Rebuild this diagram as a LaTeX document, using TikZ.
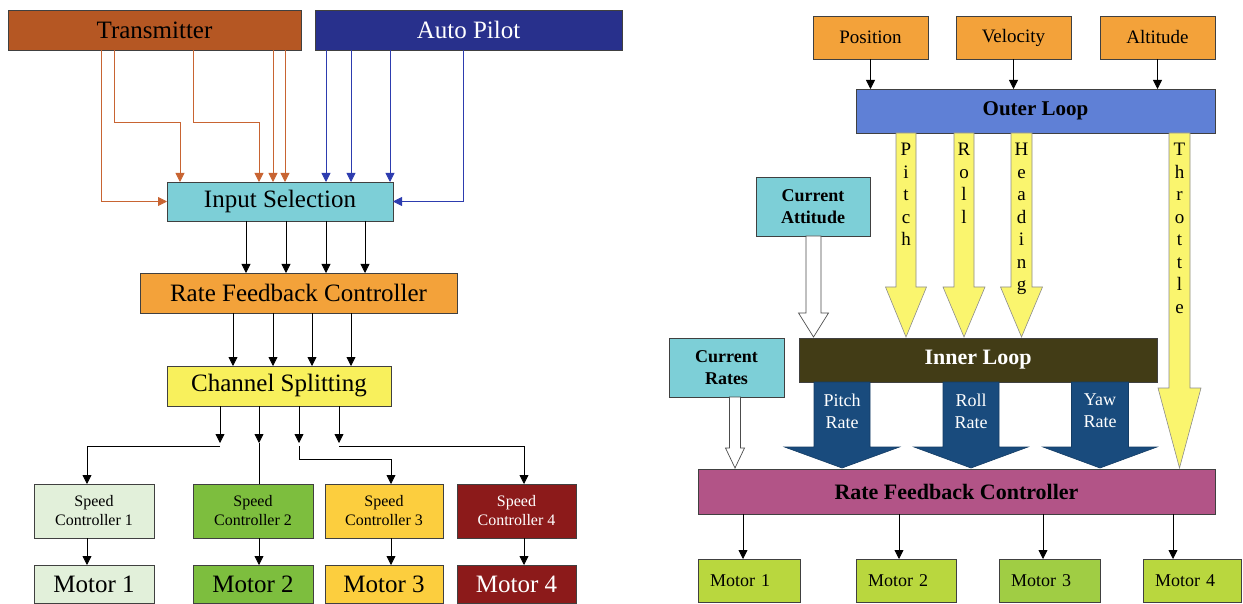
\documentclass[tikz,border=0pt]{standalone}
\usepackage{fontspec}
\setmainfont{Liberation Serif}
\usepackage{tikz}
\usetikzlibrary{arrows.meta,%
                positioning}

\definecolor{txbrown}{RGB}{181,87,35}
\definecolor{txlink}{RGB}{200,100,50}
\definecolor{apnavy}{RGB}{40,48,140}
\definecolor{aplink}{RGB}{45,60,175}
\definecolor{selcyan}{RGB}{125,207,215}
\definecolor{rfcorange}{RGB}{243,162,58}
\definecolor{splityellow}{RGB}{248,240,92}
\definecolor{paleg}{RGB}{226,240,218}
\definecolor{midg}{RGB}{125,190,62}
\definecolor{sunny}{RGB}{252,206,62}
\definecolor{darkred}{RGB}{140,26,26}
\definecolor{outerblue}{RGB}{95,128,214}
\definecolor{arrowyellow}{RGB}{250,245,110}
\definecolor{innerolive}{RGB}{66,60,22}
\definecolor{rateblue}{RGB}{25,75,125}
\definecolor{rfcpurple}{RGB}{178,84,135}
\definecolor{motorlime}{RGB}{185,215,62}
\definecolor{motorgreen}{RGB}{160,205,68}

% fat block arrow: style, x, y top, y head, y tip, half shaft, half head
\newcommand{\fatarrow}[7]{%
  \draw[#1] (#2-#6,#3) -- (#2-#6,#4) -- (#2-#7,#4) -- (#2,#5)
            -- (#2+#7,#4) -- (#2+#6,#4) -- (#2+#6,#3) -- cycle;}

\begin{document}
\begin{tikzpicture}[x=1pt,y=-1pt]
  \tikzset{BoxStyle/.style = {shape          = rectangle,
                              draw           = black!75,
                              line width     = 0.8pt,
                              text           = black,
                              inner sep      = 0pt,
                              outer sep      = 0pt,
                              align          = center}}
  \tikzset{LinkStyle/.style = {line width = 0.8pt,
                               -{Triangle[width=9pt,length=9pt]}}}
  \tikzset{BigText/.style = {font=\fontsize{25}{28}\selectfont},
           SmallText/.style = {font=\fontsize{16}{19}\selectfont},
           BoldText/.style = {font=\fontsize{18}{22}\selectfont\bfseries},
           WideBox/.style 2 args = {minimum width=#1, minimum height=#2},
           MotorBox/.style = {font=\fontsize{18}{22}\selectfont, minimum height=43pt,
                              text width=#1, align=left, inner xsep=12pt}}
  \tikzset{YellowArrow/.style = {fill=arrowyellow, draw=black!45, line width=0.6pt},
           HollowArrow/.style = {fill=white, draw=black!70, line width=0.7pt},
           RateArrow/.style = {fill=rateblue, draw=rateblue!80!black, line width=0.6pt},
           LetterText/.style = {font=\fontsize{19}{22.5}\selectfont, align=center,
                                inner sep=0pt, anchor=north}}
  \useasboundingbox (0,0) rectangle (1243,604);

	%%% LEFT : RC PATH %%%
	\node[BoxStyle, BigText, WideBox={293pt}{40pt}, fill=txbrown](tx) at (154.5,30){Transmitter};
	\node[BoxStyle, BigText, WideBox={307pt}{40pt}, fill=apnavy, text=white](ap) at (468.5,30){Auto Pilot};
	\node[BoxStyle, BigText, WideBox={226pt}{39pt}, fill=selcyan](insel) at (280,201.5){Input Selection};
	\node[BoxStyle, BigText, WideBox={317pt}{40pt}, fill=rfcorange](rfc) at (298.5,293){Rate Feedback Controller};
	\node[BoxStyle, BigText, WideBox={224pt}{40pt}, fill=splityellow](chsp) at (279,386){Channel Splitting};
	%
	\node[BoxStyle, SmallText, WideBox={120pt}{54pt}, fill=paleg](sc1) at (94,511){Speed\\Controller 1};
	\node[BoxStyle, SmallText, WideBox={120pt}{54pt}, fill=midg](sc2) at (253,511){Speed\\Controller 2};
	\node[BoxStyle, SmallText, WideBox={118pt}{54pt}, fill=sunny](sc3) at (384,511){Speed\\Controller 3};
	\node[BoxStyle, SmallText, WideBox={119pt}{54pt}, fill=darkred, text=white](sc4) at (516.5,511){Speed\\Controller 4};
	%
	\node[BoxStyle, BigText, WideBox={120pt}{38pt}, fill=paleg, below=27pt of sc1](mo1){Motor 1};
	\node[BoxStyle, BigText, WideBox={120pt}{38pt}, fill=midg, below=27pt of sc2](mo2){Motor 2};
	\node[BoxStyle, BigText, WideBox={118pt}{38pt}, fill=sunny, below=27pt of sc3](mo3){Motor 3};
	\node[BoxStyle, BigText, WideBox={119pt}{38pt}, fill=darkred, text=white, below=27pt of sc4](mo4){Motor 4};

	%% transmitter links
	\draw[LinkStyle, draw=txlink]([xshift=93pt]tx.south west) |- (insel.west);
	\draw[LinkStyle, draw=txlink]([xshift=106pt]tx.south west) -- ++(0,72) -| ([xshift=13pt]insel.north west);
	\draw[LinkStyle, draw=txlink]([xshift=185pt]tx.south west) -- ++(0,72) -| ([xshift=92pt]insel.north west);
	\draw[LinkStyle, draw=txlink]([xshift=265pt]tx.south west) -- ([xshift=106pt]insel.north west);
	\draw[LinkStyle, draw=txlink]([xshift=277pt]tx.south west) -- ([xshift=118pt]insel.north west);
	%% auto pilot links
	\foreach \a/\b in {11/159, 36/184, 75/223}
		\draw[LinkStyle, draw=aplink]([xshift=\a pt]ap.south west) -- ([xshift=\b pt]insel.north west);
	\draw[LinkStyle, draw=aplink]([xshift=148pt]ap.south west) |- (insel.east);
	%% down the chain
	\foreach \a/\b in {79/106, 119/146, 159/186, 198/225}
		\draw[LinkStyle]([xshift=\a pt]insel.south west) -- ([xshift=\b pt]rfc.north west);
	\foreach \a/\b in {93/66, 133/106, 172/145, 211/184}
		\draw[LinkStyle]([xshift=\a pt]rfc.south west) -- ([xshift=\b pt]chsp.north west);
	% splitting
	\coordinate (s1) at ([xshift=53pt, yshift=-37pt]chsp.south west);
	\coordinate (s2) at ([xshift=92pt, yshift=-37pt]chsp.south west);
	\coordinate (s3) at ([xshift=132pt, yshift=-37pt]chsp.south west);
	\coordinate (s4) at ([xshift=172pt, yshift=-37pt]chsp.south west);
	\foreach \s in {s1,s2,s3,s4}
		\draw[LinkStyle](chsp.south -| \s) -- (\s);
	\draw[LinkStyle]([yshift=-3pt]s1) -| ([xshift=53pt]sc1.north west);
	\draw[line width=0.8pt](s2) -- (sc2.north -| s2);
	\draw[LinkStyle]([yshift=-3pt]s3) -- ++(0,13) -| ([xshift=66pt]sc3.north west);
	\draw[LinkStyle]([yshift=-3pt]s4) -| ([xshift=67pt]sc4.north west);
	\foreach \n/\a in {1/53, 2/66, 3/66, 4/67}
		\draw[LinkStyle]([xshift=\a pt]sc\n.south west) -- ([xshift=\a pt]mo\n.north west);

	%%% RIGHT : LOOPS %%%
	\node[BoxStyle, font=\fontsize{19}{22}\selectfont, WideBox={115pt}{43pt}, fill=rfcorange](pos) at (870.5,37.5){Position};
	\node[BoxStyle, font=\fontsize{19}{22}\selectfont, WideBox={115pt}{43pt}, fill=rfcorange](vel) at (1013.5,37.5){Velocity};
	\node[BoxStyle, font=\fontsize{19}{22}\selectfont, WideBox={115pt}{43pt}, fill=rfcorange](alt) at (1157.5,37.5){Altitude};
	\node[BoxStyle, font=\fontsize{21}{24}\selectfont\bfseries, WideBox={359pt}{44pt}, fill=outerblue](outer) at (1035.5,111){Outer Loop};
	\node[BoxStyle, BoldText, WideBox={114pt}{59pt}, fill=selcyan](curatt) at (813,206.5){Current\\Attitude};
	\node[BoxStyle, font=\fontsize{22}{24}\selectfont\bfseries, WideBox={358pt}{44pt}, fill=innerolive, text=white](inner) at (978,360){Inner Loop};
	\node[BoxStyle, BoldText, WideBox={115pt}{59pt}, fill=selcyan](currat) at (726.5,367.5){Current\\Rates};
	\node[BoxStyle, font=\fontsize{22}{24}\selectfont\bfseries, WideBox={517pt}{45pt}, fill=rfcpurple](rfcr) at (956.5,491.5){Rate Feedback Controller};
	%
	\node[BoxStyle, MotorBox={78pt}, fill=motorlime](m1) at (749,580.5){Motor 1};
	\node[BoxStyle, MotorBox={76pt}, fill=motorlime](m2) at (906,580.5){Motor 2};
	\node[BoxStyle, MotorBox={77pt}, fill=motorgreen](m3) at (1049.5,580.5){Motor 3};
	\node[BoxStyle, MotorBox={74pt}, fill=motorlime](m4) at (1192,580.5){Motor 4};

	\foreach \b in {pos,vel,alt}
		\draw[LinkStyle](\b) -- (\b |- outer.north);
	\foreach \n/\a in {1/45, 2/201, 3/345, 4/475}{
		\coordinate (r\n) at ([xshift=\a pt]rfcr.south west);
		\draw[LinkStyle](r\n) -- (r\n |- m\n.north);
	}

	%% fat arrows
	\fatarrow{YellowArrow}{906}{133}{287}{337}{10}{20.5}
	\fatarrow{YellowArrow}{964}{133}{287}{337}{10}{21}
	\fatarrow{YellowArrow}{1021.5}{133}{287}{337}{10.5}{21}
	\fatarrow{YellowArrow}{1179.5}{133}{388}{468}{10.5}{21.5}
	\fatarrow{HollowArrow}{813.5}{236}{313}{337}{7.5}{15}
	\fatarrow{HollowArrow}{735}{397}{448}{468}{5.5}{9.5}
	\fatarrow{RateArrow}{842}{382}{447}{468}{28}{57.5}
	\fatarrow{RateArrow}{971}{382}{447}{468}{28}{57}
	\fatarrow{RateArrow}{1100}{382}{447}{468}{28.5}{57}
	%
	\node[LetterText](pitchtxt) at (906,143){P\\i\\t\\c\\h};
	\node[LetterText](rolltxt) at (964,143){R\\o\\l\\l};
	\node[LetterText](headtxt) at (1021.5,143){H\\e\\a\\d\\i\\n\\g};
	\node[LetterText](throttxt) at (1179.5,143){T\\h\\r\\o\\t\\t\\l\\e};
	\node[font=\fontsize{18}{22}\selectfont, text=white, align=center](prtxt) at (842,411){Pitch\\Rate};
	\node[font=\fontsize{18}{22}\selectfont, text=white, align=center](rrtxt) at (971,411){Roll\\Rate};
	\node[font=\fontsize{18}{22}\selectfont, text=white, align=center](yrtxt) at (1100,411){Yaw\\Rate};
\end{tikzpicture}
\end{document}
